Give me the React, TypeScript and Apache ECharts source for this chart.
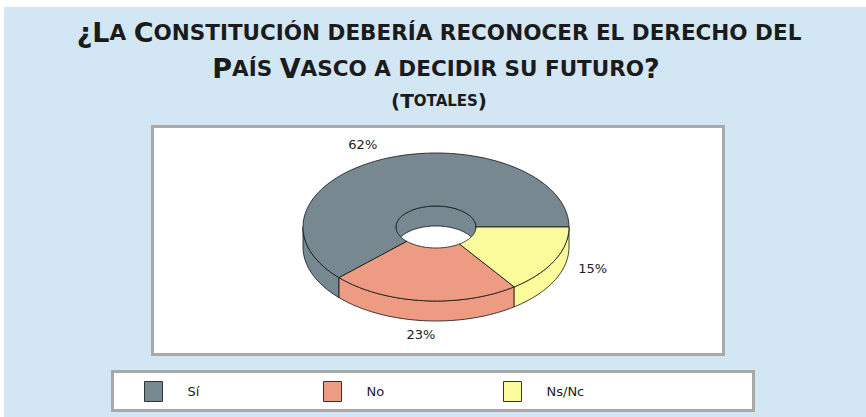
import React, { useEffect, useRef } from "react";
import * as echarts from "echarts";

const categories = ["Sí", "No", "Ns/Nc"];
const values = [62, 23, 15];
const titleLines = [
  "¿La Constitución debería reconocer el derecho del",
  "País Vasco a decidir su futuro?",
];
const subtitle = "(Totales)";

const colors = ["#778891", "#EE9B83", "#FCFB9B"];
const legendLeft = [144, 323, 503];

const CX = 436, CY = 227, RX = 133, RY = 74, IRX = 40, IRY = 21, DEPTH = 20;

function arc(rx: number, ry: number, cy: number, from: number, to: number) {
  const n = Math.max(2, Math.ceil(Math.abs(to - from) / 2));
  const pts: number[][] = [];
  for (let k = 0; k <= n; k++) {
    const a = ((from + ((to - from) * k) / n) * Math.PI) / 180;
    pts.push([CX + rx * Math.cos(a), cy + ry * Math.sin(a)]);
  }
  return pts;
}

function smallCaps(s: string) {
  let out = "";
  let cur = "";
  let curType = "";
  const flush = () => {
    if (cur) out += `{${curType}|${cur}}`;
    cur = "";
  };
  for (const ch of s) {
    const isLower = ch !== ch.toUpperCase() || ch === " ";
    const t = isLower ? "s" : "b";
    if (t !== curType) {
      flush();
      curType = t;
    }
    cur += ch.toUpperCase();
  }
  flush();
  return out;
}

export default function App() {
  const ref = useRef<HTMLDivElement>(null);
  useEffect(() => {
    document.body.style.margin = "0";
    const chart = echarts.init(ref.current!, null, { renderer: "svg" });
    const total = values.reduce((a, b) => a + b, 0);
    const stroke = { stroke: "#111", lineWidth: 0.8 };

    const makeSeries = (i: number) => ({
      type: "custom",
      name: categories[i],
      coordinateSystem: "none",
      silent: true,
      itemStyle: { color: colors[i] },
      data: [values[i]],
      renderItem: (params: any, api: any) => {
        const v = api.value(0);
        let cum = 0;
        for (let j = 0; j < i; j++) cum += values[j];
        const a0 = 360 - ((cum + v) / total) * 360;
        const a1 = 360 - (cum / total) * 360;
        const fill = colors[i];
        const children: any[] = [];
        const f0 = Math.max(a0, 0), f1 = Math.min(a1, 180);
        if (f1 > f0) {
          children.push({
            type: "polygon",
            z2: 1,
            shape: { points: arc(RX, RY, CY, f0, f1).concat(arc(RX, RY, CY + DEPTH, f1, f0)) },
            style: { fill, ...stroke },
          });
        }
        const b0 = Math.max(a0, 180), b1 = Math.min(a1, 360);
        if (b1 > b0) {
          children.push({
            type: "polygon",
            z2: 1,
            shape: { points: arc(IRX, IRY, CY, b0, b1).concat(arc(IRX, IRY, CY + DEPTH, b1, b0)) },
            style: { fill, ...stroke },
          });
        }
        children.push({
          type: "polygon",
          z2: 3,
          shape: { points: arc(RX, RY, CY, a0, a1).concat(arc(IRX, IRY, CY, a1, a0)) },
          style: { fill, ...stroke },
        });
        const m = (((a0 + a1) / 2) * Math.PI) / 180;
        const c = Math.cos(m), s = Math.sin(m);
        const lx = CX + RX * 1.2 * c;
        const ly = s > 0
          ? CY + RY * s + (DEPTH + 8) * Math.pow(s, 4)
          : CY + RY * 1.1 * s;
        children.push({
          type: "text",
          z2: 5,
          x: lx,
          y: ly,
          style: {
            text: Math.round((v / total) * 100) + "%",
            fill: "#222",
            font: "13px 'DejaVu Sans'",
            align: c > 0.3 ? "left" : c < -0.3 ? "right" : "center",
            verticalAlign: s < 0 ? "bottom" : "top",
          },
        });
        return { type: "group", children };
      },
    });

    const rich = (big: number, small: number) => ({
      b: { fontSize: big, fontWeight: "bold", fontFamily: "DejaVu Sans", fill: "#1b1b1b" },
      s: { fontSize: small, fontWeight: "bold", fontFamily: "DejaVu Sans", fill: "#1b1b1b" },
    });

    chart.setOption({
      animation: false,
      backgroundColor: "#ffffff",
      graphic: [
        { type: "rect", z: 0, shape: { x: 4, y: 7, width: 862, height: 410 }, style: { fill: "#D2E6F4" } },
        {
          type: "rect", z: 0,
          shape: { x: 152.5, y: 126.5, width: 571, height: 228 },
          style: { fill: "#ffffff", stroke: "#A9A9A9", lineWidth: 3 },
        },
        {
          type: "rect", z: 0,
          shape: { x: 112.5, y: 371.5, width: 641, height: 39 },
          style: { fill: "#ffffff", stroke: "#A9A9A9", lineWidth: 3 },
        },
        {
          type: "text", z: 5, x: 439, y: 32,
          style: { text: smallCaps(titleLines[0]), rich: rich(27, 21.5), align: "center", verticalAlign: "middle" },
        },
        {
          type: "text", z: 5, x: 436, y: 68,
          style: { text: smallCaps(titleLines[1]), rich: rich(27, 21.5), align: "center", verticalAlign: "middle" },
        },
        {
          type: "text", z: 5, x: 439, y: 101,
          style: { text: smallCaps(subtitle), rich: rich(20, 15), align: "center", verticalAlign: "middle" },
        },
      ],
      legend: categories.map((c, i) => ({
        data: [{ name: c, itemStyle: { color: colors[i], borderColor: "#333", borderWidth: 1 } }],
        left: legendLeft[i],
        top: 381,
        padding: 0,
        itemWidth: 18,
        itemHeight: 20,
        icon: "rect",
        selectedMode: false,
        textStyle: { fontFamily: "DejaVu Sans", fontSize: 13, color: "#222", padding: [0, 0, 0, 20] },
      })),
      series: categories.map((_, i) => makeSeries(i)),
    });
    return () => chart.dispose();
  }, []);
  return <div ref={ref} style={{ width: 866, height: 417 }} />;
}
